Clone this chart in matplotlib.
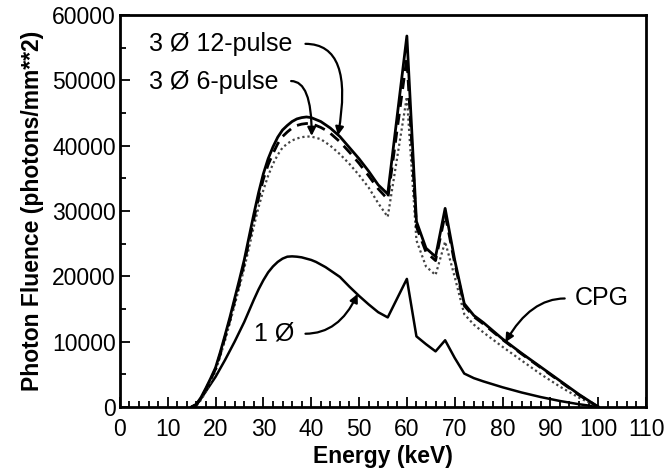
import matplotlib
matplotlib.use("Agg")
import matplotlib.pyplot as plt
from matplotlib.ticker import MultipleLocator

plt.rcParams['font.family'] = ['Liberation Sans', 'DejaVu Sans']

energy = [15, 16, 17, 18, 19, 20, 21, 22, 23, 24, 25, 26, 27, 28, 29, 30, 31, 32, 33, 34,
          35, 36, 37, 38, 39, 40, 41, 42, 43, 44, 46, 48, 50, 52, 54, 56,
          60, 62, 64, 66, 68, 70, 72, 74, 76, 80, 84, 88, 92, 96, 100]

cpg = [0, 400, 1500, 2900, 4400, 6000, 8400, 11000, 13700, 16600, 19500, 22500, 26000, 29500,
       32800, 35700, 38000, 39800, 41300, 42400, 43100, 43700, 44100, 44300, 44400, 44300,
       44000, 43700, 43200, 42700, 41400, 39700, 38000, 36100, 34000, 32600,
       56800, 28400, 24300, 23000, 30400, 22500, 15800, 14000, 12900, 10400, 8200, 6100, 4000,
       1900, 0]

pulse12 = [0, 350, 1400, 2700, 4200, 5800, 8100, 10700, 13300, 16200, 19000, 22000, 25400,
           28800, 32000, 34900, 37100, 38800, 40300, 41400, 42100, 42700, 43100, 43300, 43400,
           43300, 43100, 42800, 42400, 41900, 40600, 39000, 37300, 35400, 33400, 31800,
           53500, 27600, 23700, 22400, 29500, 22000, 15500, 13800, 12700, 10300, 8100, 6000,
           3900, 1800, 0]

pulse6 = [0, 150, 1100, 2400, 3900, 5500, 7800, 10200, 12900, 15600, 18400, 21200, 24400,
          27600, 30600, 33200, 35400, 37200, 38600, 39700, 40300, 40800, 41100, 41300, 41400,
          41400, 41200, 41000, 40500, 40000, 38700, 37200, 35500, 33600, 31200, 29100,
          47500, 25500, 21500, 20200, 25300, 19900, 14200, 12600, 11400, 9200, 7100, 5000,
          3100, 1400, 0]

phase1 = [0, 300, 1300, 2400, 3500, 4600, 5900, 7200, 8600, 10000, 11500, 13000, 14700,
          16400, 18000, 19400, 20600, 21500, 22200, 22700, 23000, 23050, 23000, 22900, 22700,
          22500, 22200, 21800, 21400, 20900, 19900, 18400, 17000, 15700, 14500, 13700,
          19600, 10800, 9600, 8500, 10200, 7500, 5100, 4400, 3900, 3000, 2200, 1500, 900,
          400, 0]

xticks = [0, 10, 20, 30, 40, 50, 60, 70, 80, 90, 100, 110]
yticks = [0, 10000, 20000, 30000, 40000, 50000, 60000]

fig = plt.figure(figsize=(6.66, 4.72), dpi=100)
ax = fig.add_axes([0.180, 0.138, 0.790, 0.830])

ax.plot(energy, phase1, color='black', lw=1.8)
ax.plot(energy, pulse6, color='#444444', lw=1.6, linestyle=(0, (1, 1.3)))
ax.plot(energy, pulse12, color='black', lw=2.0, linestyle=(0, (4, 2.5)))
ax.plot(energy, cpg, color='black', lw=2.0)

ax.set_xlim(0, 110)
ax.set_ylim(0, 60000)
ax.set_xticks(xticks)
ax.set_yticks(yticks)
ax.set_xticklabels([str(v) for v in xticks])
ax.set_yticklabels([str(v) for v in yticks])
ax.xaxis.set_minor_locator(MultipleLocator(2))
ax.yaxis.set_minor_locator(MultipleLocator(5000))
ax.tick_params(which='both', direction='in', top=False, right=False, labelsize=16.5, width=1.3)
ax.tick_params(which='major', length=7)
ax.tick_params(which='minor', length=4)
ax.tick_params(axis='x', pad=8)
ax.tick_params(axis='y', pad=3)
for s in ax.spines.values():
    s.set_linewidth(2.0)

ax.set_xlabel('Energy (keV)', fontsize=16.5, fontweight='bold', labelpad=3)
ax.set_ylabel('Photon Fluence (photons/mm**2)', fontsize=16.5, fontweight='bold', labelpad=6)

tfs = 18
ap = dict(arrowstyle='-|>', color='black', lw=1.6, mutation_scale=12, shrinkA=0, shrinkB=0)

ax.text(6.0, 55500, '3 Ø 12-pulse', fontsize=tfs, va='center', ha='left')
ax.annotate('', xy=(45.6, 41600), xytext=(38.8, 55600),
            arrowprops=dict(ap, connectionstyle='angle3,angleA=0,angleB=80'))

ax.text(6.0, 49800, '3 Ø 6-pulse', fontsize=tfs, va='center', ha='left')
ax.annotate('', xy=(40.1, 41500), xytext=(35.8, 49900),
            arrowprops=dict(ap, connectionstyle='angle3,angleA=0,angleB=90'))

ax.text(28.0, 11200, '1 Ø', fontsize=tfs, va='center', ha='left')
ax.annotate('', xy=(49.7, 17300), xytext=(38.8, 11200),
            arrowprops=dict(ap, connectionstyle='angle3,angleA=0,angleB=65'))

ax.text(95.0, 16600, 'CPG', fontsize=tfs, va='center', ha='left')
ax.annotate('', xy=(80.6, 9900), xytext=(93.0, 16600),
            arrowprops=dict(ap, connectionstyle='angle3,angleA=0,angleB=60'))

fig.savefig('out.png', dpi=100)
